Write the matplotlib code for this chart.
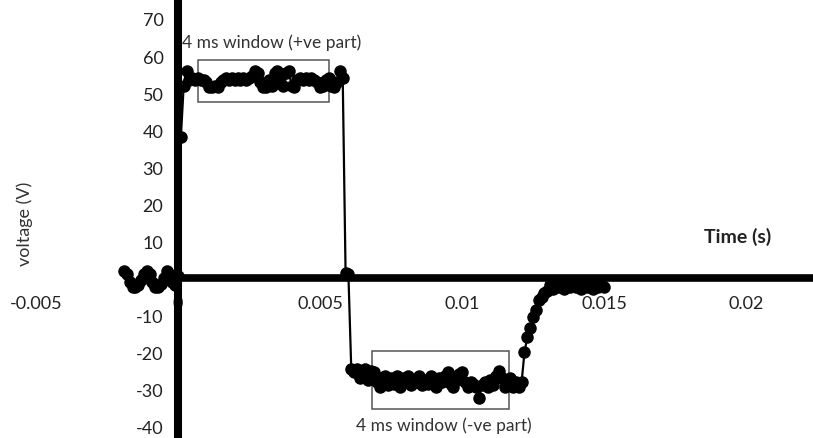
import numpy as np
import matplotlib
matplotlib.use("Agg")
import matplotlib.pyplot as plt
from matplotlib.patches import Rectangle

plt.rcParams['font.family'] = ['Lato', 'DejaVu Sans']
plt.rcParams['axes.unicode_minus'] = False

# sampled trace: first sample time and sampling step (s)
t_start = -0.0019
t_step = 0.0001

voltage = [
    # before the pulse (-1.9 ms .. 0 ms)
    2.0, 1.0, -1.0, -2.5, -2.5, -2.0, -0.5, 1.0, 2.0, 1.0,
    -1.0, -2.5, -2.5, -1.5, 0.0, 2.0, 1.0, -1.0, -2.0, 0.5,
    # rising edge + positive plateau (0.1 .. 5.8 ms)
    38.0, 52.0, 56.0, 53.5, 54.0, 53.5, 54.0, 53.5, 53.5, 53.0,
    51.5, 51.5, 52.0, 51.5, 53.0, 53.5, 54.0, 53.5, 54.0, 53.5,
    54.0, 53.5, 54.0, 53.5, 54.0, 54.5, 56.0, 55.5, 53.0, 51.5,
    51.5, 53.5, 52.0, 55.5, 56.0, 54.0, 52.0, 55.5, 56.0, 52.0,
    51.5, 53.5, 54.0, 53.5, 54.0, 53.5, 54.0, 53.5, 53.0, 51.5,
    52.0, 53.5, 54.0, 52.0, 51.5, 53.0, 56.0, 54.0,
    # falling edge (5.9 .. 6.0 ms)
    1.5, 1.0,
    # negative plateau (6.1 .. 12.1 ms)
    -24.5, -25.5, -24.5, -27.0, -25.0, -24.5, -27.5, -25.0, -25.5, -28.0,
    -29.5, -27.0, -26.5, -29.0, -27.0, -28.5, -26.5, -29.5, -27.0, -27.5,
    -26.5, -29.0, -27.5, -28.0, -26.5, -29.0, -27.5, -28.5, -26.5, -28.0,
    -29.5, -27.0, -28.0, -26.5, -25.5, -28.5, -29.5, -27.5, -26.0, -25.5,
    -28.0, -29.5, -28.0, -28.5, -29.5, -32.5, -29.0, -28.0, -29.5, -27.5,
    -29.0, -26.5, -25.0, -27.0, -29.5, -28.0, -27.0, -29.5, -28.0, -29.5,
    -28.0,
    # recovery (12.2 .. 15.0 ms)
    -20.0, -16.0, -13.5, -10.5, -8.5, -6.0, -5.0, -4.0, -3.5, -2.0,
    -3.0, -1.5, -2.5, -1.5, -3.0, -2.0, -2.5, -1.5, -2.5, -2.0,
    -3.0, -2.0, -2.5, -2.0, -3.0, -2.0, -2.5, -2.0, -2.5,
]

x_ticks = [-0.005, 0, 0.005, 0.01, 0.015, 0.02]
x_tick_labels = ["-0.005", "0", "0.005", "0.01", "0.015", "0.02"]
y_ticks = [-40, -30, -20, -10, 10, 20, 30, 40, 50, 60, 70]

# measurement windows: (t0, t1, v0, v1)
pos_window = (0.0007, 0.00532, 47.7, 59.0)
neg_window = (0.00683, 0.01166, -35.4, -19.8)

time = t_start + t_step * np.arange(len(voltage))

fig = plt.figure(figsize=(8.13, 4.39), dpi=100)
ax = fig.add_axes([0, 0, 1, 1])
ax.set_xlim(-0.006268, 0.022359)
ax.set_ylim(-43.2, 75.4)

ax.plot(time, voltage, color="black", linewidth=1.6, marker="o",
        markersize=8, markerfacecolor="black", markeredgecolor="black", zorder=4)

for (t0, t1, v0, v1) in (pos_window, neg_window):
    ax.add_patch(Rectangle((t0, v0), t1 - t0, v1 - v0, fill=False,
                           edgecolor="#555555", linewidth=1.1, zorder=3))

# axes crossing at the origin
for side in ("top", "right"):
    ax.spines[side].set_visible(False)
ax.spines["left"].set_position(("data", 0))
ax.spines["bottom"].set_position(("data", 0))
ax.spines["left"].set_linewidth(5.8)
ax.spines["bottom"].set_linewidth(5.5)
ax.spines["left"].set_bounds(-42, 74.5)
ax.spines["bottom"].set_bounds(0, 0.0224)

ax.set_xticks(x_ticks)
ax.set_xticklabels(x_tick_labels)
ax.set_yticks(y_ticks)
ax.tick_params(axis="x", length=0, pad=12.5, labelsize=13, labelcolor="#222222")
ax.tick_params(axis="y", length=0, pad=10.5, labelsize=13, labelcolor="#222222")

ax.text(0.01972, 11.4, "Time (s)", ha="center", va="center",
        fontsize=14, fontweight="bold", color="#222222")
ax.text(-0.00539, 14.9, "voltage (V)", ha="center", va="center",
        rotation=90, fontsize=13, color="#333333")
ax.text(0.00331, 63.8, "4 ms window (+ve part)", ha="center", va="center",
        fontsize=12.5, color="#333333")
ax.text(0.00937, -39.5, "4 ms window (-ve part)", ha="center", va="center",
        fontsize=12.5, color="#333333")

fig.savefig("out.png", dpi=100)
